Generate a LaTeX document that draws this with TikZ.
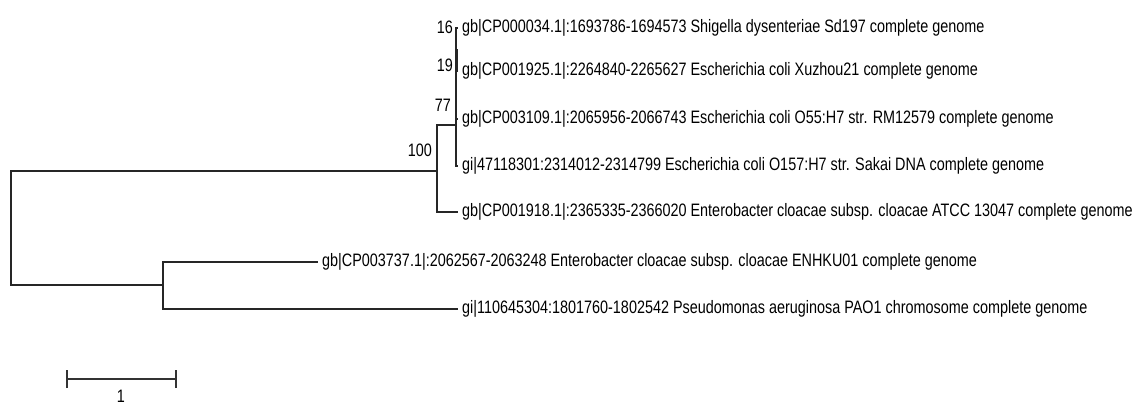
\documentclass[tikz,border=0pt]{standalone}
\usepackage{fontspec}
\setmainfont[FakeStretch=0.80]{Liberation Sans}
\usetikzlibrary{positioning}

\begin{document}
\begin{tikzpicture}[x=1pt, y=-1pt,
    branch/.style={line width=1.2pt, draw=black!85},
    leaf/.style={anchor=west, inner xsep=4pt, inner ysep=0pt, font=\fontsize{18}{20}\selectfont},
    boot/.style={anchor=east, inner sep=0pt, font=\fontsize{18}{20}\selectfont}]
    \useasboundingbox (0,0) rectangle (1138,405);

    % Leaves
    \foreach \n/\x/\y/\txt in {
        l1/458/28/{gb|CP000034.1|:1693786-1694573 Shigella dysenteriae Sd197 complete genome},
        l2/458/71/{gb|CP001925.1|:2264840-2265627 Escherichia coli Xuzhou21 complete genome},
        l3/458/119/{gb|CP003109.1|:2065956-2066743 Escherichia coli O55:H7 str. RM12579 complete genome},
        l4/458/166/{gi|47118301:2314012-2314799 Escherichia coli O157:H7 str. Sakai DNA complete genome},
        l5/458/212/{gb|CP001918.1|:2365335-2366020 Enterobacter cloacae subsp. cloacae ATCC 13047 complete genome},
        l6/318/262/{gb|CP003737.1|:2062567-2063248 Enterobacter cloacae subsp. cloacae ENHKU01 complete genome},
        l7/458/309/{gi|110645304:1801760-1802542 Pseudomonas aeruginosa PAO1 chromosome complete genome}} {
        \node[leaf] (\n) at (\x,\y) {\txt};
    }

    % Inner nodes
    \coordinate (root) at (11,228);
    \coordinate (c100) at (437,171);
    \coordinate (c77) at (456,125);
    \coordinate (c19) at (456,84);
    \coordinate (c16) at (456,49);
    \coordinate (clow) at (163,285);

    % Branches
    \draw[branch] (root) |- (c100);
    \draw[branch] (root) |- (clow);
    \draw[branch] (c100) |- (c77);
    \draw[branch] (c100) |- (l5.west);
    \draw[branch] (c77) |- (c19);
    \draw[branch] (c77) |- (l4.west);
    \draw[branch] (c19) |- (c16);
    \draw[branch] (c19) |- (l3.west);
    \draw[branch] (c16) |- (l1.west);
    \draw[branch] ([xshift=1pt]c16) |- (l2.west);
    \draw[branch] (clow) |- (l6.west);
    \draw[branch] (clow) |- (l7.west);

    % Bootstrap values
    \node[boot] (b16) at (453,27) {16};
    \node[boot] (b19) at (453,65) {19};
    \node[boot] (b77) at (451,105) {77};
    \node[boot] (b100) at (432,150) {100};

    % Scale bar
    \coordinate (sbl) at (67,379);
    \coordinate (sbr) at (176,379);
    \draw[line width=1.6pt, draw=black!80] (sbl) -- (sbr);
    \draw[line width=1.2pt, draw=black!80] ([yshift=-9pt]sbl) -- ([yshift=9pt]sbl);
    \draw[line width=1.2pt, draw=black!80] ([yshift=-9pt]sbr) -- ([yshift=9pt]sbr);
    \node[inner sep=0pt, font=\fontsize{18}{20}\selectfont] (sblabel) at (121,396) {1};
\end{tikzpicture}
\end{document}
